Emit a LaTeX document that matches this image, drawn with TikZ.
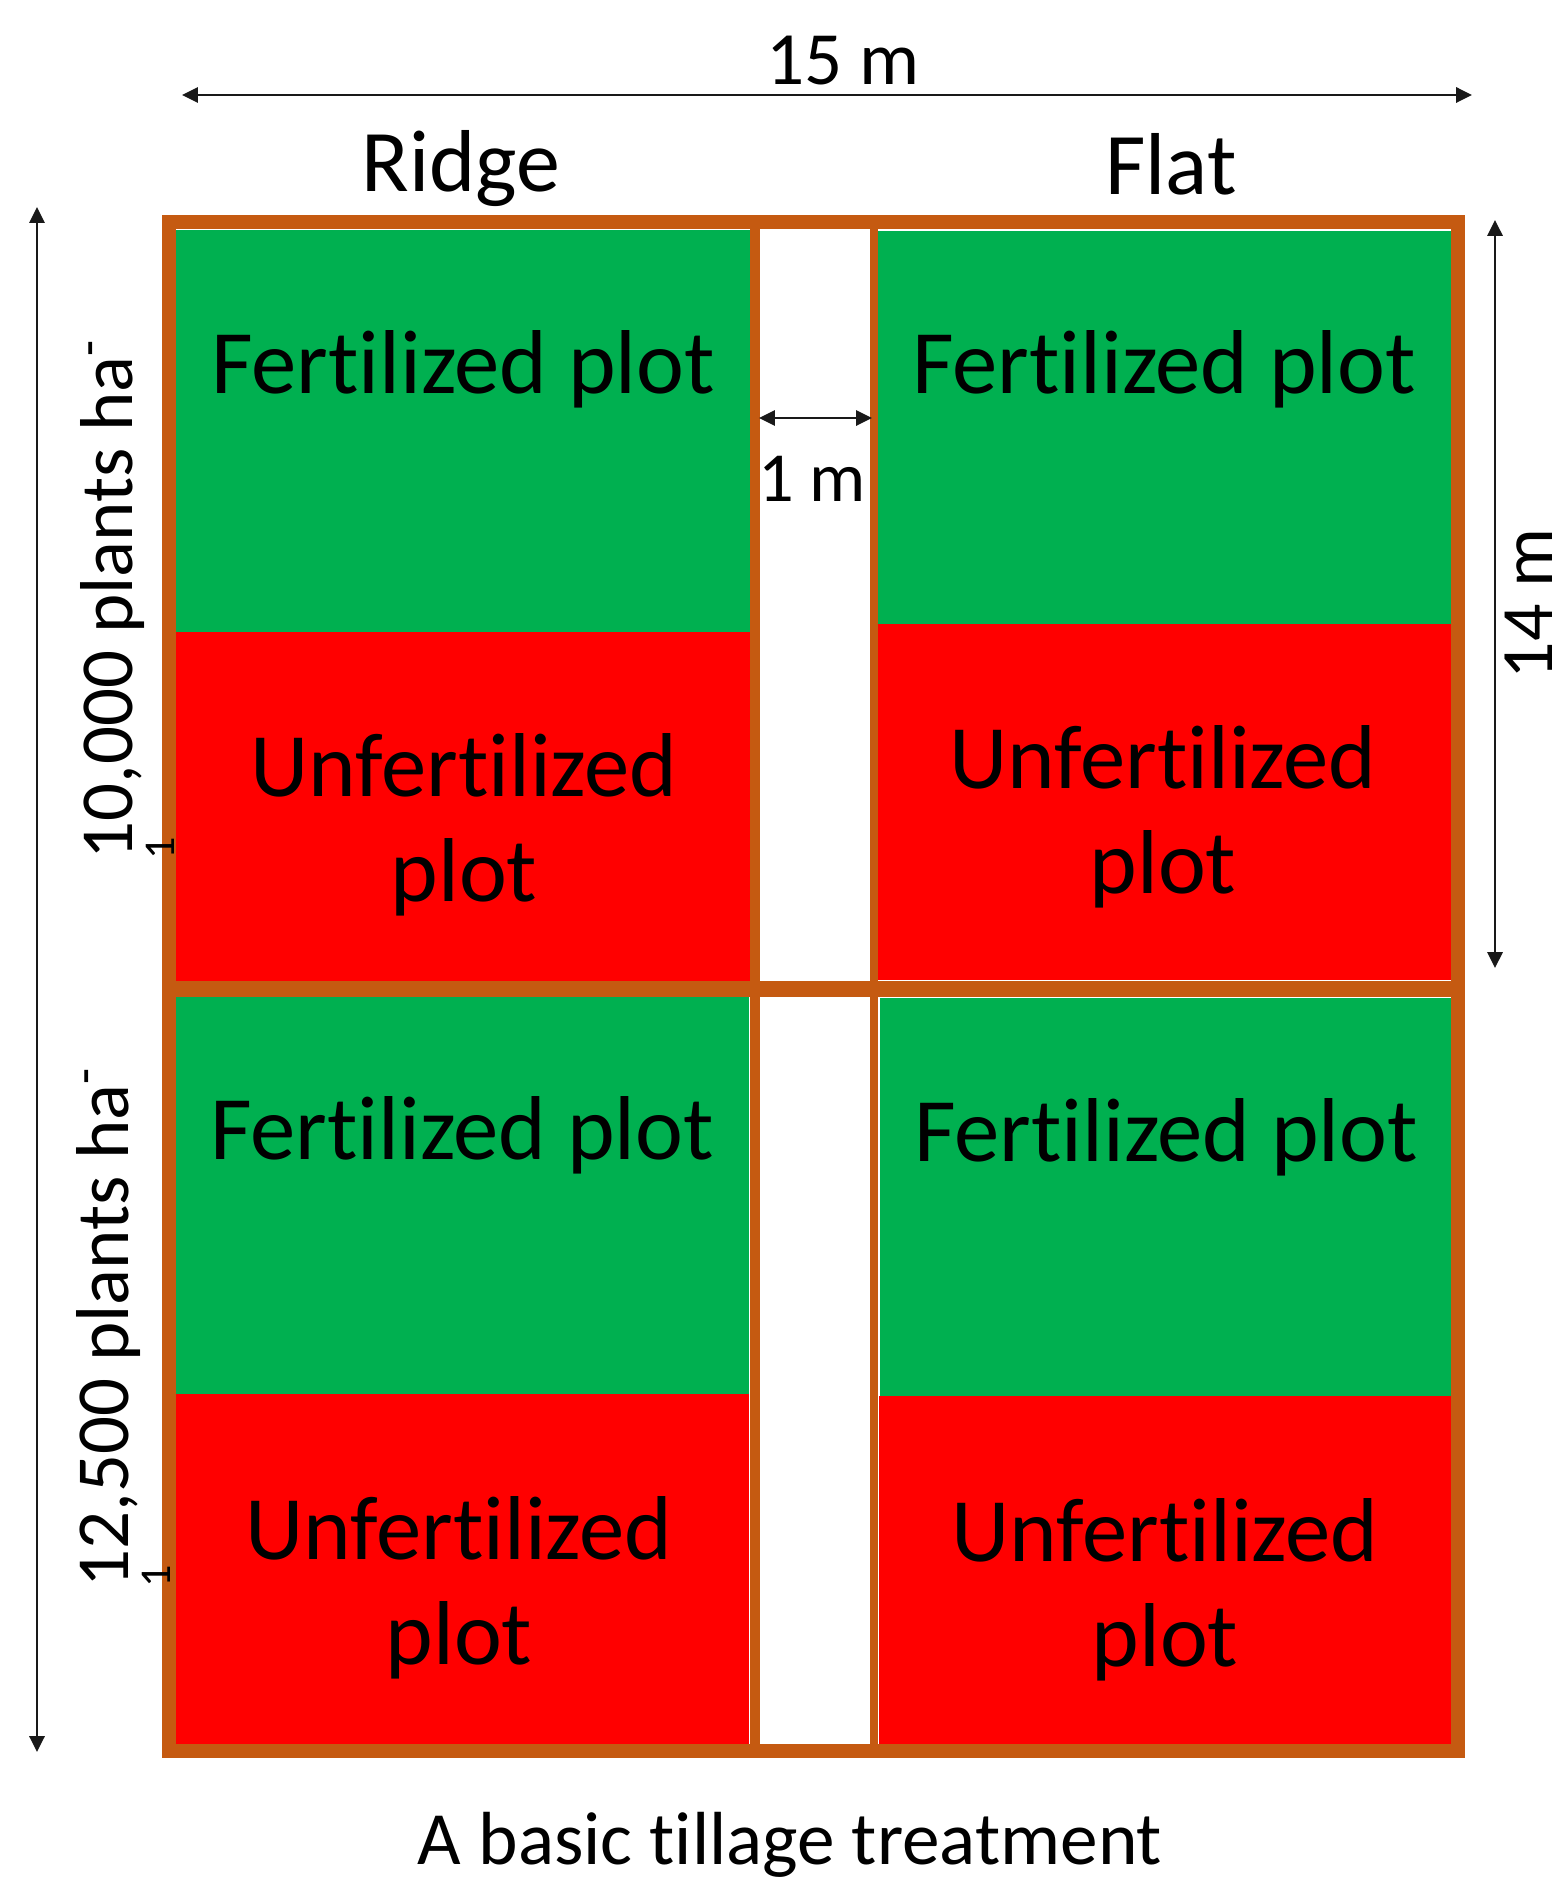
\documentclass[tikz,border=0pt]{standalone}
\usepackage{fontspec}
\setmainfont{Carlito}[Ligatures=NoCommon]
\usetikzlibrary{arrows.meta}
\definecolor{frame}{HTML}{C55A11}
\definecolor{fgreen}{HTML}{00B050}
\definecolor{fred}{HTML}{FF0000}
\tikzset{
  plottext/.style={font=\fontsize{25.8}{29.6}\selectfont, align=center, anchor=base, inner sep=0pt},
  headtext/.style={font=\fontsize{25}{30}\selectfont, anchor=base, inner sep=0pt},
  dimtext/.style={font=\fontsize{21.4}{25}\selectfont, anchor=base, inner sep=0pt},
  sidetext/.style={font=\fontsize{21.3}{25}\selectfont, rotate=90, anchor=base west, inner sep=0pt},
  dimline/.style={line width=0.7pt, draw=black!90, {Triangle[length=4.5pt,width=4.3pt]}-{Triangle[length=4.5pt,width=4.3pt]}},
  brown/.style={draw=frame},
}
\newcommand{\smallone}{\rlap{\raisebox{-12.2pt}{\fontsize{12.5}{15}\selectfont 1}}}
\begin{document}
\begin{tikzpicture}[x=0.01cm,y=-0.01cm]
\useasboundingbox (0,0) rectangle (1563,1879);
% plots
\fill[fgreen] (176,230) rectangle (750,632);
\fill[fred]   (176,632) rectangle (750,989);
\fill[fgreen] (876,231) rectangle (1452,624);
\fill[fred]   (874,624) rectangle (1452,980);
\fill[fgreen] (175,996) rectangle (749,1394);
\fill[fred]   (171,1394) rectangle (749,1751);
\fill[fgreen] (880,998) rectangle (1453,1396);
\fill[fred]   (879,1396) rectangle (1454,1752);
% frame
\draw[brown, line width=2.85pt] (755,222) -- (755,1751);
\draw[brown, line width=2.1pt] (874,222) -- (874,1751);
\draw[brown, line width=4.5pt] (169,989) -- (1458,989);
\draw[brown, line width=4.1pt] (169,222) rectangle (1458,1751);
% texts in plots
\node[plottext] (f1) at (463,393) {Fertilized plot};
\node[plottext] (f2) at (1164,393) {Fertilized plot};
\node[plottext] (f3) at (462,1159) {Fertilized plot};
\node[plottext] (f4) at (1166,1161) {Fertilized plot};
\node[plottext] (u1) at (464,901) {Unfertilized\\plot};
\node[plottext] (u2) at (1163,893) {Unfertilized\\plot};
\node[plottext] (u3) at (459,1664) {Unfertilized\\plot};
\node[plottext] (u4) at (1165,1666) {Unfertilized\\plot};
% headings
\node[headtext] (ridge) at (461,192) {Ridge};
\node[headtext] (flat) at (1171,195) {Flat};
\node[dimtext] (w15) at (843,85) {15 m};
\node[dimtext] (cap) at (790,1864) {A basic tillage treatment};
\node[font=\fontsize{20}{24}\selectfont, anchor=base, inner sep=0pt] (w1) at (812,501) {1 m};
\node[font=\fontsize{21}{25}\selectfont, rotate=90, anchor=base, inner sep=0pt] (h14) at (1552,604) {14 m};
\node[sidetext] (d1) at (132,860) {\smallone10,000 plants ha\textsuperscript{-}};
\node[sidetext] (d2) at (128,1588) {\smallone12,500 plants ha\textsuperscript{-}};
% dimension arrows
\coordinate (a15l) at (182,95);
\coordinate (a15r) at (1472,95);
\coordinate (alt) at (37,207);
\coordinate (alb) at (37,1752);
\coordinate (art) at (1495,220);
\coordinate (arb) at (1495,968);
\coordinate (a1l) at (759,418);
\coordinate (a1r) at (872,418);
\draw[dimline] (a15l) -- (a15r);
\draw[dimline] (alt) -- (alb);
\draw[dimline] (art) -- (arb);
\draw[dimline] (a1l) -- (a1r);
\end{tikzpicture}
\end{document}
